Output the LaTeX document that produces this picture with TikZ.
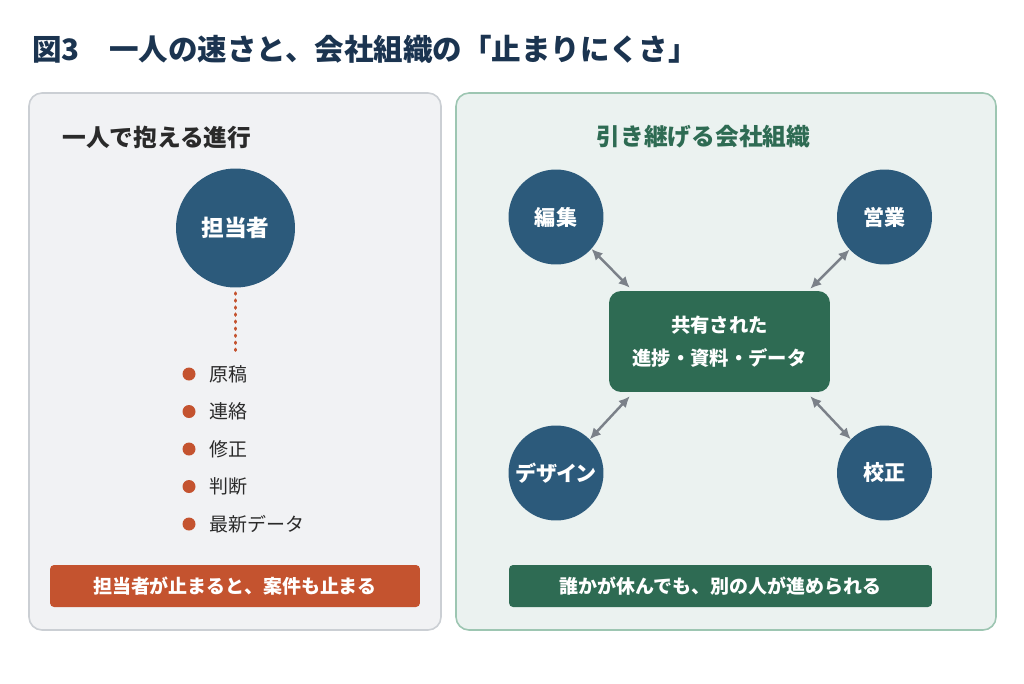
\documentclass[tikz,border=0pt]{standalone}
\usepackage{fontspec}
\setmainfont{Noto Sans CJK JP}
\newfontfamily\paltfont{Noto Sans CJK JP}[RawFeature={+palt}]
\usepackage{tikz}
\usetikzlibrary{arrows.meta,positioning}
\definecolor{FigNavy}{HTML}{1B3450}
\definecolor{FigBlue}{HTML}{2C5A7B}
\definecolor{FigRed}{HTML}{C4532F}
\definecolor{FigGreen}{HTML}{2E6B53}
\definecolor{FigInk}{HTML}{2A2A2A}
\definecolor{FigGrey}{HTML}{7B8189}
\definecolor{SoloFill}{HTML}{F1F2F4}
\definecolor{SoloLine}{HTML}{CBCFD4}
\definecolor{TeamFill}{HTML}{EBF2F0}
\definecolor{TeamLine}{HTML}{9DC6B2}

\begin{document}
\begin{tikzpicture}[
  x=0.02cm, y=-0.02cm,
  panel/.style={line width=0.9pt, rounded corners=2.6mm},
  heading/.style={inner sep=0pt, font=\fontsize{13.5}{16}\selectfont\bfseries},
  person/.style={circle, fill=FigBlue, text=white, minimum size=1.9cm, inner sep=0pt, font=\fontsize{12}{14}\selectfont\bfseries},
  bullet/.style={circle, fill=FigRed, minimum size=2.6mm, inner sep=0pt},
  item/.style={inner sep=0pt, text=FigInk, font=\fontsize{10.8}{13}\selectfont},
  banner/.style={rounded corners=0.8mm, text=white, minimum height=0.84cm, inner sep=0pt, font=\fontsize{10.8}{13}\selectfont\bfseries},
  share/.style={rounded corners=2.4mm, fill=FigGreen, text=white, minimum width=4.42cm, minimum height=2.02cm, align=center, font=\fontsize{11}{18.8}\selectfont\bfseries},
  link/.style={{Latex[length=2.2mm,width=2.1mm]}-{Latex[length=2.2mm,width=2.1mm]}, line width=1.4pt, draw=FigGrey},
  dotline/.style={draw=FigRed, line width=2pt, line cap=round, dash pattern=on 0.5pt off 3.5pt}
]
  \useasboundingbox[fill=white] (0,0) rectangle (1024,683);

  % title
  \node[anchor=west, inner sep=0pt, text=FigNavy, font=\fontsize{16.8}{19}\selectfont\bfseries] (title) at (32,49) {図3　一人の速さと、会社組織の「止まりにくさ」};

  % left: one person
  \draw[panel, draw=SoloLine, fill=SoloFill] (29,93) rectangle (441,630);
  \node[heading, anchor=west, text=FigInk] (solohead) at (62,137) {一人で抱える進行};
  \node[person, minimum size=2.38cm, font=\fontsize{12.9}{15}\selectfont\bfseries] (tanto) at (235.5,228) {担当者};
  \coordinate (listtop) at (235.5,351);
  \draw[dotline, shorten <=3pt] (tanto) -- (listtop);
  \foreach \txt [count=\i] in {原稿,連絡,修正,判断,最新データ}{
    \node[bullet] (b\i) at (189,{374+37.5*(\i-1)}) {};
    \node[item, right=2.7mm of b\i] (t\i) {\txt};
  }
  \node[banner, fill=FigRed, minimum width=7.4cm] (stop) at (235,586) {担当者が止まると、案件も止まる};

  % right: company
  \draw[panel, draw=TeamLine, fill=TeamFill] (456,93) rectangle (996,630);
  \node[heading, text=FigGreen] (teamhead) at (703.5,137) {引き継げる会社組織};
  \node[share] (data) at (719.5,341.5) {共有された\\進捗・資料・データ};
  \node[person] (ed) at (556,217) {編集};
  \node[person] (ei) at (884.5,217) {営業};
  \node[person] (de) at (556,473) {\paltfont デザイン};
  \node[person] (ko) at (884.5,473) {校正};

  \coordinate (ed-in) at ([shift={(21,-3)}]data.north west);
  \coordinate (ei-in) at ([shift={(-20,-2)}]data.north east);
  \coordinate (de-in) at ([shift={(21,4)}]data.south west);
  \coordinate (ko-in) at ([shift={(-20,4)}]data.south east);
  \draw[link] (ed.-42) -- (ed-in);
  \draw[link] (ei.-137) -- (ei-in);
  \draw[link] (de.45) -- (de-in);
  \draw[link] (ko.135) -- (ko-in);

  \node[banner, fill=FigGreen, minimum width=8.46cm] (go) at (720.5,586) {誰かが休んでも、別の人が進められる};
\end{tikzpicture}
\end{document}
